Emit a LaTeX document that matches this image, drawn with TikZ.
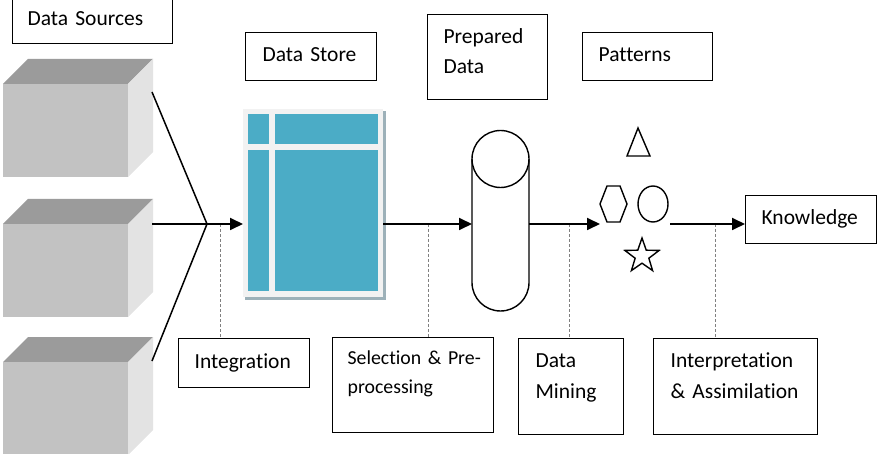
\documentclass[tikz,border=0pt]{standalone}
\usepackage{fontspec}
\setmainfont{Carlito}[Ligatures={NoCommon}]
\usetikzlibrary{arrows.meta,shapes.geometric}

\definecolor{cubefront}{HTML}{C2C2C2}
\definecolor{cubetop}{HTML}{9B9B9B}
\definecolor{cubeside}{HTML}{E3E3E3}
\definecolor{storeblue}{HTML}{4BACC6}
\definecolor{storepanel}{HTML}{F2F2F2}
\definecolor{storeshadow}{HTML}{9DB1B9}

\newcommand{\boxfont}{\fontsize{21.5}{31}\selectfont}
\newcommand{\smallboxfont}{\fontsize{19.8}{29}\selectfont}
% one grey source cube, #1 = top edge of its front face
\newcommand{\srccube}[1]{%
  \fill[cubetop] (3,#1) -- (28,#1-25) -- (153,#1-25) -- (128,#1) -- cycle;
  \fill[cubeside] (128,#1) -- (153,#1-25) -- (153,#1+68) -- (128,#1+93) -- cycle;
  \fill[cubefront] (3,#1) rectangle (128,#1+93);}

\begin{document}
\begin{tikzpicture}[x=1pt,y=-1pt,
	label box/.style = {draw, line width=1.2pt, anchor=north west, inner ysep=0pt, align=left, font=\boxfont},
	flow/.style = {line width=1.8pt, -{Triangle[length=13pt,width=12pt]}},
	feed/.style = {line width=1.5pt},
	guide/.style = {draw=gray, line width=0.9pt, dash pattern=on 3pt off 2pt},
	icon/.style = {draw, line width=1.4pt}]

	\path[use as bounding box, clip] (0,0) rectangle (883,454);

	% sources
	\srccube{84}
	\srccube{224}
	\srccube{362}

	% data store
	\fill[storeshadow] (245,111) rectangle (386,300);
	\node[fill=storepanel, inner sep=0pt, minimum width=140pt, minimum height=188pt, anchor=north west] (dstore) at (243,109) {};
	\fill[storeblue] (248,114) rectangle (269,144);
	\fill[storeblue] (275,114) rectangle (378,144);
	\fill[storeblue] (248,150) rectangle (269,291);
	\fill[storeblue] (275,150) rectangle (378,291);

	% labels
	\node[label box, inner xsep=15pt, text width=130pt, text height=30pt, text depth=18pt] (src) at (12,-5) {Data Sources};
	\node[label box, inner xsep=17pt, text width=97pt, text height=29pt, text depth=19pt] (store) at (245,32) {Data Store};
	\node[label box, inner xsep=16pt, text width=88pt, text height=29pt, text depth=56pt, font=\fontsize{21.5}{30}\selectfont] (prep) at (427,14) {Prepared\\Data};
	\node[label box, inner xsep=16pt, text width=98pt, text height=29pt, text depth=19pt] (pat) at (582,32) {Patterns};
	\node[label box, inner xsep=16pt, text width=99pt, text height=29pt, text depth=19pt] (know) at (745,195) {Knowledge};
	\node[label box, inner xsep=16pt, text width=99pt, text height=30pt, text depth=19pt] (integ) at (178,338) {Integration};
	\node[label box, inner xsep=15pt, text width=131pt, text height=27pt, text depth=68pt, font=\smallboxfont] (sel) at (332,337) {\mbox{Selection \& Pre-}\\processing};
	\node[label box, inner xsep=17pt, text width=71pt, text height=29pt, text depth=67pt] (mine) at (518,338) {Data\\Mining};
	\node[label box, inner xsep=17pt, text width=130pt, text height=29pt, text depth=67pt] (interp) at (653,338) {Interpretation\\\& Assimilation};

	% points on the flow line
	\coordinate (s1) at (152,92);
	\coordinate (s2) at (152,224);
	\coordinate (s3) at (152,361);
	\coordinate (join) at (207,224);
	\coordinate (cylW) at (472,224);
	\coordinate (cylE) at (529,224);
	\coordinate (hexin) at (600,224);
	\coordinate (pout) at (670,224);
	\coordinate (g1) at (220,224);
	\coordinate (g2) at (428,224);
	\coordinate (g3) at (569,224);
	\coordinate (g4) at (715,224);

	% step markers
	\draw[guide] (g1) -- (g1 |- integ.north);
	\draw[guide] (g2) -- (g2 |- sel.north);
	\draw[guide] (g3) -- (g3 |- mine.north);
	\draw[guide] (g4) -- (g4 |- interp.north);

	% prepared data cylinder
	\draw[icon] (472,159) -- (472,282.5) arc[start angle=180, end angle=360, radius=28.5pt]
		-- (529,159) arc[start angle=0, end angle=180, radius=28.5pt];
	\draw[icon] (472,159) arc[start angle=180, end angle=360, radius=28.5pt];

	% patterns
	\draw[icon] (638,128) -- (650,156) -- (627,156) -- cycle;
	\draw[icon] (600,204) -- (607,186) -- (620,186) -- (627,204) -- (620,222) -- (607,222) -- cycle;
	\node[icon, ellipse, inner sep=0pt, minimum width=30pt, minimum height=36pt] (oval) at (653,204) {};
	\node[icon, star, star points=5, star point ratio=2.5, inner sep=0pt, minimum size=36pt] (starry) at (642,256) {};

	% flow
	\draw[feed] (s1) -- (join);
	\draw[feed] (s3) -- (join);
	\draw[flow] (s2) -- (dstore.west |- s2);
	\draw[flow] (dstore.east |- s2) -- (cylW);
	\draw[flow] (cylE) -- (hexin);
	\draw[flow] (pout) -- (know.west |- pout);

\end{tikzpicture}
\end{document}
